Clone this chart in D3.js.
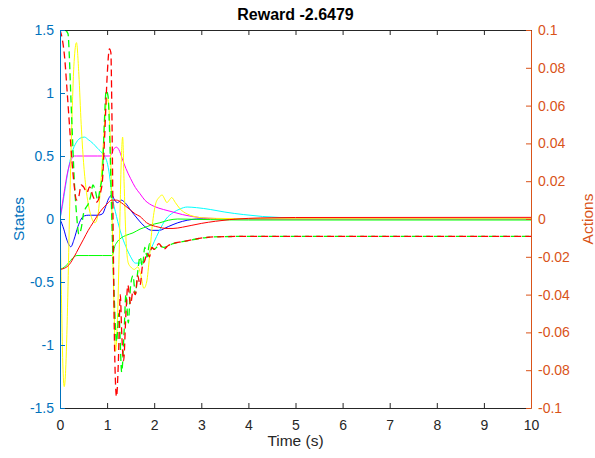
<!DOCTYPE html>
<html><head><meta charset="utf-8">
<script src="https://cdn.jsdelivr.net/npm/d3@7"></script>
<style>
html,body{margin:0;padding:0;background:#fff;}
svg{display:block;font-family:"Liberation Sans",Arial,Helvetica,sans-serif;}
</style></head>
<body><svg id="chart" width="595" height="458"></svg>
<script>
// ---------------- data ----------------
const titleText = "Reward -2.6479";
const xTicks = [0,1,2,3,4,5,6,7,8,9,10];
const yLeftTicks = [-1.5,-1,-0.5,0,0.5,1,1.5];
const yLeftTickLabels = ["-1.5","-1","-0.5","0","0.5","1","1.5"];
const yRightTicks = [-0.1,-0.08,-0.06,-0.04,-0.02,0,0.02,0.04,0.06,0.08,0.1];
const yRightTickLabels = ["-0.1","-0.08","-0.06","-0.04","-0.02","0","0.02","0.04","0.06","0.08","0.1"];

// states (left axis, solid)
const blueT = [0,0.08,0.15,0.23,0.3,0.38,0.45,0.52,0.6,0.7,0.8,0.9,0.97,1.03,1.1,1.16,1.22,1.3,1.38,1.5,1.65,1.8,1.95,2.1,2.3,2.5,2.7,2.9,3.2,3.6,4.5,10];
const blueV = [0,-0.08,-0.17,-0.22,-0.16,-0.06,0,0.025,0.03,0.03,0.03,0.04,0.1,0.16,0.19,0.15,0.13,0.15,0.13,0.07,0,-0.06,-0.09,-0.09,-0.06,-0.03,-0.01,0,0.003,0.002,0,0];

const cyanT = [0,0.05,0.1,0.17,0.25,0.35,0.45,0.52,0.6,0.7,0.8,0.9,1.0,1.05,1.1,1.2,1.3,1.4,1.5,1.6,1.7,1.8,1.9,2.0,2.1,2.25,2.4,2.55,2.7,2.9,3.2,3.5,3.9,4.3,5,6,10];
const cyanV = [0,0.1,0.22,0.38,0.52,0.61,0.645,0.65,0.63,0.6,0.56,0.52,0.45,0.35,0.2,0.02,-0.12,-0.22,-0.3,-0.35,-0.35,-0.32,-0.26,-0.18,-0.1,0,0.05,0.08,0.095,0.09,0.075,0.055,0.035,0.02,0.008,0.002,0];

const magentaT = [0,0.05,0.1,0.15,0.2,0.25,0.3,0.35,0.5,0.8,1.05,1.1,1.15,1.2,1.25,1.32,1.4,1.5,1.6,1.7,1.8,1.9,2.0,2.2,2.4,2.6,2.8,3.0,3.3,3.7,4.5,10];
const magentaV = [0,0.12,0.24,0.35,0.43,0.48,0.5,0.5,0.5,0.5,0.5,0.52,0.56,0.57,0.55,0.48,0.4,0.32,0.25,0.2,0.15,0.12,0.1,0.075,0.055,0.035,0.02,0.01,0.004,0.001,0,0];

const greenT = [0,0.1,0.2,0.3,0.36,0.6,0.9,1.1,1.13,1.16,1.2,1.3,1.4,1.55,1.7,1.85,2.0,2.12,2.3,2.5,2.8,3.2,4,10];
const greenV = [-0.4,-0.38,-0.34,-0.3,-0.29,-0.29,-0.29,-0.29,-0.27,-0.22,-0.19,-0.15,-0.13,-0.11,-0.08,-0.06,-0.04,-0.03,-0.01,0,-0.002,-0.005,-0.008,-0.008];

const yellowT = [0,0.03,0.06,0.09,0.12,0.16,0.2,0.25,0.3,0.35,0.4,0.45,0.5,0.55,0.6,0.67,0.74,0.8,0.86,0.92,0.97,1.02,1.06,1.1,1.14,1.18,1.22,1.26,1.3,1.33,1.36,1.4,1.45,1.5,1.58,1.65,1.72,1.78,1.84,1.9,1.96,2.03,2.1,2.17,2.22,2.27,2.32,2.37,2.45,2.55,2.7,2.85,3.0,3.3,3.7,4.5,10];
const yellowV = [0,-0.6,-1.15,-1.33,-1.2,-0.7,0,0.75,1.25,1.4,1.15,0.75,0.45,0.25,0.12,0.01,-0.03,0.02,0.25,0.6,0.88,0.95,0.7,0.1,-0.6,-1.05,-0.8,-0.2,0.45,0.65,0.3,-0.15,-0.35,-0.38,-0.4,-0.38,-0.45,-0.55,-0.5,-0.3,-0.05,0.12,0.17,0.19,0.16,0.13,0.15,0.17,0.13,0.08,0.04,0.02,0.01,0.005,0.003,0.002,0.002];

const redT = [0,0.1,0.2,0.3,0.4,0.5,0.6,0.7,0.8,0.9,1.0,1.1,1.2,1.3,1.4,1.5,1.6,1.7,1.84,1.95,2.1,2.25,2.4,2.6,2.8,3.0,3.3,3.6,4.0,4.5,5,10];
const redV = [-0.4,-0.39,-0.36,-0.3,-0.23,-0.16,-0.09,-0.03,0.03,0.08,0.12,0.15,0.15,0.13,0.1,0.07,0.04,0.02,-0.03,-0.05,-0.065,-0.075,-0.075,-0.065,-0.05,-0.035,-0.018,-0.005,0.005,0.01,0.012,0.013];

// actions (right axis, dashed)
const act1T = [0,0.05,0.1,0.15,0.2,0.25,0.3,0.35,0.4,0.45,0.5,0.57,0.63,0.7,0.78,0.85,0.9,0.95,1.0,1.05,1.08,1.1,1.13,1.16,1.2,1.24,1.28,1.31,1.35,1.4,1.44,1.5,1.55,1.6,1.65,1.7,1.75,1.8,1.85,1.9,1.95,2.0,2.1,2.2,2.3,2.4,2.6,2.8,3.1,3.5,4,10];
const act1V = [0.1,0.095,0.085,0.068,0.05,0.032,0.018,0.01,0.012,0.018,0.017,0.014,0.017,0.012,0.009,0.013,0.02,0.045,0.075,0.09,0.088,0.06,-0.01,-0.07,-0.094,-0.075,-0.04,-0.06,-0.075,-0.05,-0.035,-0.045,-0.038,-0.04,-0.03,-0.035,-0.025,-0.022,-0.018,-0.02,-0.015,-0.016,-0.013,-0.016,-0.014,-0.013,-0.012,-0.011,-0.0098,-0.0093,-0.0092,-0.0092];

const act2T = [0,0.1,0.17,0.2,0.23,0.27,0.3,0.35,0.4,0.45,0.5,0.55,0.6,0.65,0.7,0.75,0.8,0.85,0.9,0.94,0.98,1.02,1.06,1.1,1.15,1.2,1.25,1.31,1.36,1.4,1.45,1.5,1.55,1.6,1.65,1.7,1.75,1.8,1.85,1.9,2.0,2.1,2.2,2.4,2.6,2.8,3.1,3.5,4,10];
const act2V = [0.1,0.1,0.098,0.085,0.065,0.04,0.022,0.003,-0.008,-0.005,0.003,0.006,0.008,0.012,0.018,0.015,0.01,0.016,0.024,0.05,0.068,0.065,0.04,0,-0.04,-0.065,-0.05,-0.081,-0.06,-0.04,-0.055,-0.035,-0.03,-0.04,-0.028,-0.02,-0.025,-0.015,-0.02,-0.013,-0.016,-0.014,-0.015,-0.013,-0.012,-0.011,-0.0098,-0.0093,-0.0092,-0.0092];

const stateSeries = [
  {name:"blue", t:blueT, v:blueV, color:"#0000FF"},
  {name:"cyan", t:cyanT, v:cyanV, color:"#00FFFF"},
  {name:"magenta", t:magentaT, v:magentaV, color:"#FF00FF"},
  {name:"green", t:greenT, v:greenV, color:"#00FF00"},
  {name:"yellow", t:yellowT, v:yellowV, color:"#FFFF00"},
  {name:"red", t:redT, v:redV, color:"#FF0000"}
];
const actionSeries = [
  {name:"a2", t:act2T, v:act2V, color:"#00FF00", offset:5.5},
  {name:"a1", t:act1T, v:act1V, color:"#FF0000", offset:0}
];

// ---------------- chart ----------------
const svg = d3.select("#chart");
const L=60, R=531, T=30, B=408;
const x = d3.scaleLinear().domain([0,10]).range([L,R]);
const yL = d3.scaleLinear().domain([-1.5,1.5]).range([B,T]);
const yR = d3.scaleLinear().domain([-0.1,0.1]).range([B,T]);

const blueAx = "#0072BD", orangeAx = "#D95319", grayAx = "#262626";

svg.append("defs").append("clipPath").attr("id","clip")
  .append("rect").attr("x",L).attr("y",T).attr("width",R-L).attr("height",B-T);

const plot = svg.append("g").attr("clip-path","url(#clip)");

function draw(series, yScale, dashed){
  series.forEach(s=>{
    const pts = s.t.map((t,i)=>[t,s.v[i]]);
    const line = d3.line().x(d=>x(d[0])).y(d=>yScale(d[1])).curve(d3.curveMonotoneX);
    const p = plot.append("path").attr("d",line(pts)).attr("fill","none")
      .attr("stroke",s.color).attr("stroke-width",dashed?1.3:1);
    if(dashed) p.attr("stroke-dasharray","7,4").attr("stroke-dashoffset",s.offset);
  });
}
draw(stateSeries, yL, false);
draw(actionSeries, yR, true);

// axes
const fs = 14;
const gx = svg.append("g").attr("transform",`translate(0,${B})`)
  .call(d3.axisBottom(x).tickValues(xTicks).tickFormat(d3.format("d")).tickSizeInner(-5).tickSizeOuter(0).tickPadding(12));
gx.selectAll("path,line").attr("stroke",grayAx);
gx.selectAll("text").attr("fill",grayAx).style("font-size",fs+"px");

const gt = svg.append("g").attr("transform",`translate(0,${T})`)
  .call(d3.axisTop(x).tickValues(xTicks).tickFormat("").tickSizeInner(-5).tickSizeOuter(0));
gt.selectAll("path,line").attr("stroke",grayAx);

const gl = svg.append("g").attr("transform",`translate(${L},0)`)
  .call(d3.axisLeft(yL).tickValues(yLeftTicks).tickFormat((d,i)=>yLeftTickLabels[i]).tickSizeInner(-5).tickSizeOuter(0).tickPadding(6));
gl.selectAll("path,line").attr("stroke",blueAx);
gl.selectAll("text").attr("fill",blueAx).style("font-size",fs+"px");

const gr = svg.append("g").attr("transform",`translate(${R},0)`)
  .call(d3.axisRight(yR).tickValues(yRightTicks).tickFormat((d,i)=>yRightTickLabels[i]).tickSizeInner(-5).tickSizeOuter(0).tickPadding(7));
gr.selectAll("path,line").attr("stroke",orangeAx);
gr.selectAll("text").attr("fill",orangeAx).style("font-size",fs+"px");

svg.selectAll(".domain").attr("stroke-width",1);

// labels
svg.append("text").attr("x",(L+R)/2).attr("y",20).attr("text-anchor","middle")
  .style("font-size","16px").style("font-weight","bold").attr("fill","#000").text(titleText);
svg.append("text").attr("x",(L+R)/2).attr("y",446).attr("text-anchor","middle")
  .style("font-size","15.5px").attr("fill",grayAx).text("Time (s)");
svg.append("text").attr("transform",`translate(24,${(T+B)/2}) rotate(-90)`).attr("text-anchor","middle")
  .style("font-size","15.5px").attr("fill",blueAx).text("States");
svg.append("text").attr("transform",`translate(593,${(T+B)/2}) rotate(-90)`).attr("text-anchor","middle")
  .style("font-size","15.5px").attr("fill",orangeAx).text("Actions");
</script>
</body></html>
